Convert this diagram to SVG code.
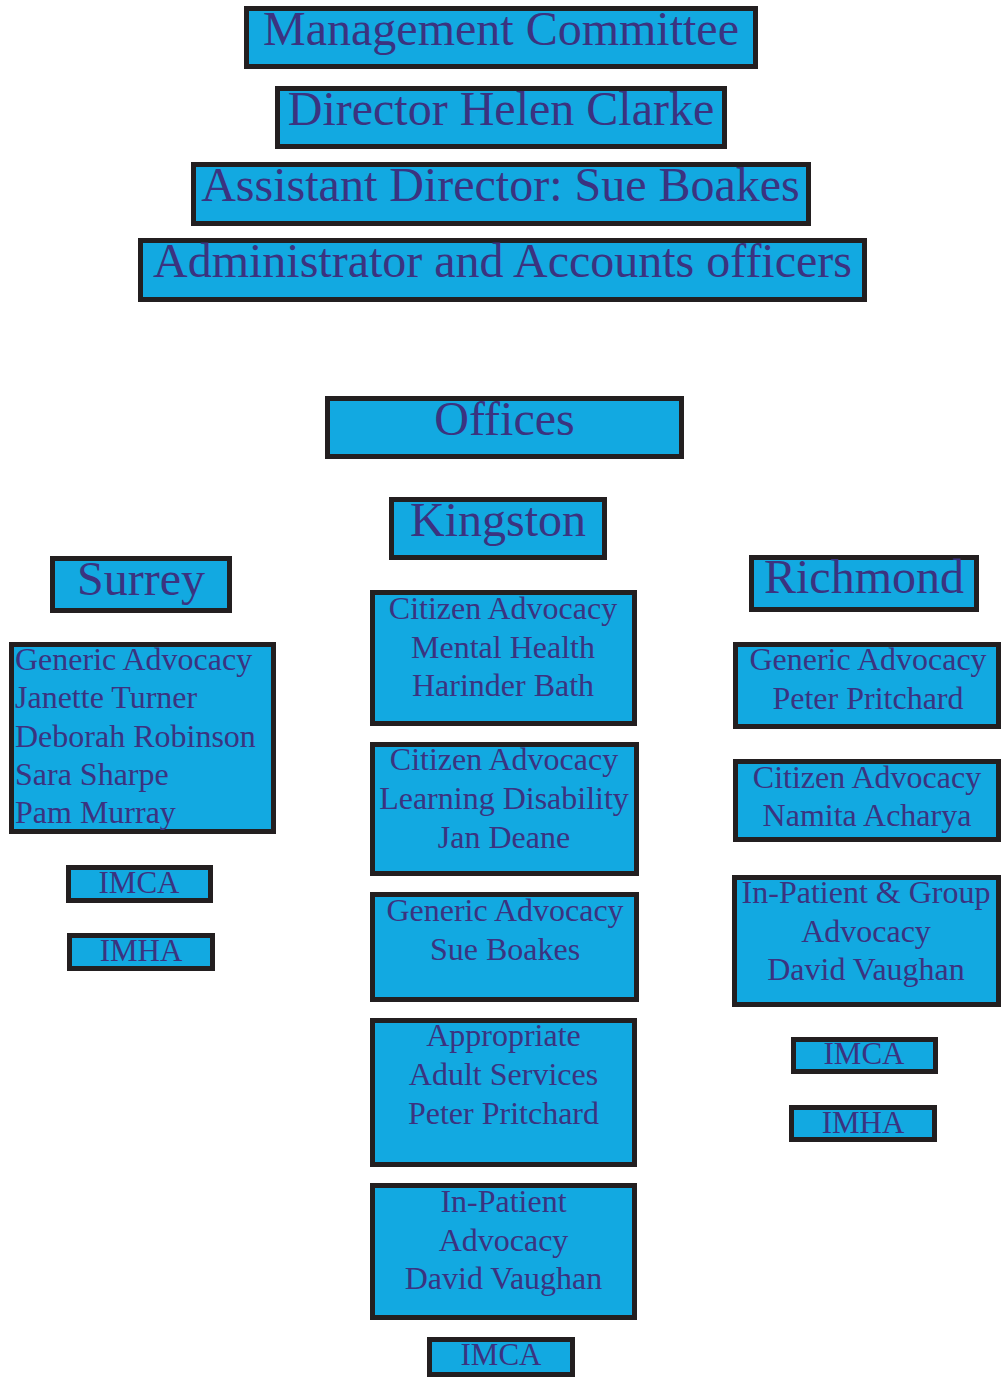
<svg xmlns="http://www.w3.org/2000/svg" width="1001" height="1377" viewBox="0 0 1001 1377">
<style>
.b{fill:#12a9e1;stroke:#231f20;stroke-width:5}
text{font-family:"Liberation Serif","Times New Roman",serif;fill:#3b3380}
.L{font-size:48px;text-anchor:middle}
.M{font-size:32px;text-anchor:middle}
.S{font-size:31px;text-anchor:middle}
.ML{font-size:32px}
</style>
<rect width="1001" height="1377" fill="#ffffff"/>
<g id="connectors"></g>
<g id="management"><rect class="b" x="246.5" y="8.5" width="509" height="58"/><text class="L" x="501" y="45">Management Committee</text></g>
<g id="director"><rect class="b" x="277.5" y="88.5" width="447" height="58"/><text class="L" x="501" y="125">Director Helen Clarke</text></g>
<g id="assistant"><rect class="b" x="193.5" y="164.5" width="615" height="59"/><text class="L" x="500.5" y="201">Assistant Director: Sue Boakes</text></g>
<g id="admin"><rect class="b" x="140.5" y="240.5" width="724" height="59"/><text class="L" x="502.5" y="277">Administrator and Accounts officers</text></g>
<g id="offices"><rect class="b" x="327.5" y="398.5" width="354" height="58"/><text class="L" x="504.5" y="435">Offices</text></g>
<g id="kingston"><rect class="b" x="391.5" y="499.5" width="213" height="58"/><text class="L" x="498" y="536">Kingston</text></g>
<g id="surrey"><rect class="b" x="52.5" y="558.5" width="177" height="52"/><text class="L" x="141" y="595">Surrey</text></g>
<g id="richmond"><rect class="b" x="751.5" y="557.5" width="225" height="52"/><text class="L" x="864" y="593">Richmond</text></g>
<g id="surrey-generic"><rect class="b" x="11.5" y="644.5" width="262" height="187"/>
<text class="ML" x="15" y="670">Generic Advocacy</text>
<text class="ML" x="15" y="708">Janette Turner</text>
<text class="ML" x="15" y="746.5">Deborah Robinson</text>
<text class="ML" x="15" y="785">Sara Sharpe</text>
<text class="ML" x="15" y="823">Pam Murray</text></g>
<g id="surrey-imca"><rect class="b" x="68.5" y="867.5" width="142" height="33"/><text class="S" x="139" y="893">IMCA</text></g>
<g id="surrey-imha"><rect class="b" x="69.5" y="935.5" width="143" height="33"/><text class="S" x="141" y="961">IMHA</text></g>
<g id="k-ca-mh"><rect class="b" x="372.5" y="592.5" width="262" height="131"/>
<text class="M" x="503" y="618.5">Citizen Advocacy</text>
<text class="M" x="503" y="657.5">Mental Health</text>
<text class="M" x="503" y="696">Harinder Bath</text></g>
<g id="k-ca-ld"><rect class="b" x="372.5" y="744.5" width="264" height="129"/>
<text class="M" x="504" y="770">Citizen Advocacy</text>
<text class="M" x="504" y="809">Learning Disability</text>
<text class="M" x="504" y="848">Jan Deane</text></g>
<g id="k-generic"><rect class="b" x="372.5" y="894.5" width="264" height="105"/>
<text class="M" x="505" y="921">Generic Advocacy</text>
<text class="M" x="505" y="960">Sue Boakes</text></g>
<g id="k-appropriate"><rect class="b" x="372.5" y="1020.5" width="262" height="144"/>
<text class="M" x="503.5" y="1046">Appropriate</text>
<text class="M" x="503.5" y="1085">Adult Services</text>
<text class="M" x="503.5" y="1124">Peter Pritchard</text></g>
<g id="k-inpatient"><rect class="b" x="372.5" y="1185.5" width="262" height="132"/>
<text class="M" x="503.5" y="1212">In-Patient</text>
<text class="M" x="503.5" y="1251">Advocacy</text>
<text class="M" x="503.5" y="1289">David Vaughan</text></g>
<g id="k-imca"><rect class="b" x="429.5" y="1339.5" width="143" height="35"/><text class="S" x="501" y="1365">IMCA</text></g>
<g id="r-generic"><rect class="b" x="735.5" y="644.5" width="263" height="82"/>
<text class="M" x="868" y="670">Generic Advocacy</text>
<text class="M" x="868" y="709">Peter Pritchard</text></g>
<g id="r-citizen"><rect class="b" x="735.5" y="761.5" width="263" height="78"/>
<text class="M" x="867" y="788">Citizen Advocacy</text>
<text class="M" x="867" y="826">Namita Acharya</text></g>
<g id="r-inpatient"><rect class="b" x="734.5" y="877.5" width="264" height="127"/>
<text class="M" x="866" y="903">In-Patient &amp; Group</text>
<text class="M" x="866" y="942">Advocacy</text>
<text class="M" x="866" y="980">David Vaughan</text></g>
<g id="r-imca"><rect class="b" x="793.5" y="1039.5" width="142" height="32"/><text class="S" x="864" y="1064">IMCA</text></g>
<g id="r-imha"><rect class="b" x="791.5" y="1107.5" width="143" height="32"/><text class="S" x="863" y="1133">IMHA</text></g>
</svg>
